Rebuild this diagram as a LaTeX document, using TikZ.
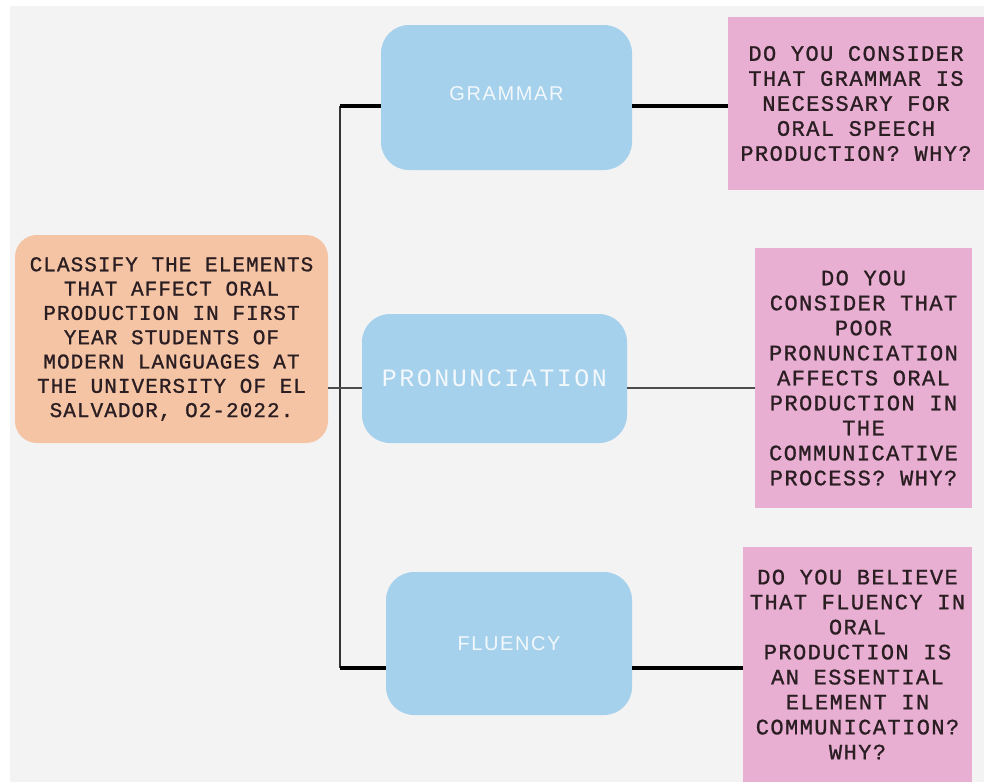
\documentclass[tikz,border=0pt]{standalone}
\usepackage{fontspec}
\usepackage{tikz}
\usetikzlibrary{positioning}
\newfontfamily\boxMono[LetterSpace=5,FakeBold=1]{Liberation Mono}
\newfontfamily\askMono[LetterSpace=6.5,FakeBold=1]{Liberation Mono}
\newfontfamily\itemMono[LetterSpace=10]{Liberation Mono}
\newfontfamily\itemSans[LetterSpace=8]{Liberation Sans}
\definecolor{bgGray}{RGB}{243,243,243}
\definecolor{myPeach}{RGB}{245,196,164}
\definecolor{myBlue}{RGB}{166,209,236}
\definecolor{myPink}{RGB}{232,175,211}
\definecolor{inkDark}{RGB}{42,30,34}
\definecolor{inkLight}{RGB}{242,248,251}
\tikzset{
		edgeStyle/.style = 	{line width = 3.5pt, color=black},
		thinEdge/.style = 	{line width = 1.4pt, color=black!70},
		spineStyle/.style = 	{line width = 1.6pt, color=black!80},
		topicBox/.style = 	{fill=myPeach, rounded corners=22pt, text=inkDark, align=center, inner sep=0pt,
					font=\boxMono\fontsize{21}{24.3}\selectfont},
		itemBox/.style = 	{fill=myBlue, rounded corners=28pt, text=inkLight, align=center, inner sep=0pt},
		askBox/.style = 	{fill=myPink, text=inkDark, align=center, inner sep=0pt,
					font=\askMono\fontsize{22}{25}\selectfont}
}

\begin{document}
\begin{tikzpicture}[x=1pt, y=-1pt]
  % page and background
  \useasboundingbox (0,0) rectangle (984,782);
  \fill[white] (0,0) rectangle (984,782);
  \fill[bgGray] (10,6) rectangle (984,782);

  % topic on the left
  \node [topicBox, minimum width=313pt, minimum height=208pt] (topic) at (171.5,339)
    {CLASSIFY THE ELEMENTS\\THAT AFFECT ORAL\\PRODUCTION IN FIRST\\YEAR STUDENTS OF\\MODERN LANGUAGES AT\\THE UNIVERSITY OF EL\\SALVADOR, O2-2022.};

  % the three elements
  \node [itemBox, minimum width=251pt, minimum height=145pt, font=\itemSans\fontsize{20}{22}\selectfont] (grammar) at (506.5,97.5) {\raisebox{7pt}{GRAMMAR}};
  \node [itemBox, minimum width=265pt, minimum height=129pt, font=\itemMono\fontsize{25}{27}\selectfont] (pron) at (494.5,378.5) {\raisebox{-3pt}{PRONUNCIATION}};
  \node [itemBox, minimum width=246pt, minimum height=143pt, font=\itemSans\fontsize{20}{22}\selectfont] (fluency) at (509,643.5) {FLUENCY};

  % the questions
  \node [askBox, minimum width=256pt, minimum height=173pt] (askGrammar) at (856,103.5)
    {DO YOU CONSIDER\\THAT GRAMMAR IS\\NECESSARY FOR\\ORAL SPEECH\\PRODUCTION? WHY?};
  \node [askBox, minimum width=217pt, minimum height=260pt] (askPron) at (863.5,378)
    {DO YOU\\CONSIDER THAT\\POOR\\PRONUNCIATION\\AFFECTS ORAL\\PRODUCTION IN\\THE\\COMMUNICATIVE\\PROCESS? WHY?};
  \node [askBox, minimum width=229pt, minimum height=235pt] (askFluency) at (857.5,664.5)
    {DO YOU BELIEVE\\THAT FLUENCY IN\\ORAL\\PRODUCTION IS\\AN ESSENTIAL\\ELEMENT IN\\COMMUNICATION?\\WHY?};

  % joints on the spine
  \coordinate (gramJoin) at (340,106);
  \coordinate (pronJoin) at (340,388);
  \coordinate (fluJoin) at (340,668);

  % connectors
  \draw [spineStyle] (gramJoin) -- (fluJoin);
  \draw [edgeStyle] (gramJoin) -- (gramJoin -| grammar.west)
                    (grammar.east |- gramJoin) -- (askGrammar.west |- gramJoin);
  \draw [thinEdge] (topic.east |- pronJoin) -- (pron.west |- pronJoin)
                   (pron.east |- pronJoin) -- (askPron.west |- pronJoin);
  \draw [edgeStyle] (fluJoin) -- (fluJoin -| fluency.west)
                    (fluency.east |- fluJoin) -- (askFluency.west |- fluJoin);

\end{tikzpicture}
\end{document}
